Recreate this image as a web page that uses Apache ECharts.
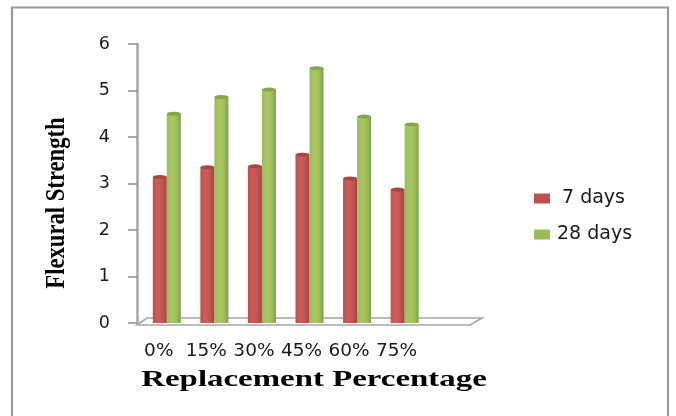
<!DOCTYPE html>
<html><head><meta charset="utf-8">
<style>html,body{margin:0;padding:0;background:#fff}#c{width:676px;height:416px}</style>
<script src="https://cdn.jsdelivr.net/npm/echarts@6/dist/echarts.min.js"></script>
</head><body><div id="c"></div>
<script>
const categories = ['0%','15%','30%','45%','60%','75%',''];
const days7 = [3.14,3.35,3.37,3.62,3.11,2.87,null];
const days28 = [4.5,4.86,5.02,5.48,4.44,4.27,null];
const yTicks = [0,1,2,3,4,5,6];
const red='#c0504d', green='#9bbb59';
function grad(dark,mid,light){return {type:'linear',x:0,y:0,x2:1,y2:0,colorStops:[{offset:0,color:mid},{offset:.4,color:light},{offset:.75,color:mid},{offset:1,color:dark}]};}
const chart = echarts.init(document.getElementById('c'),null,{renderer:'canvas'});
const barW=14;
function cap(name,data,offset,color){return {type:'scatter',name:name+' top',data:data,symbol:'circle',symbolSize:[barW,4],symbolOffset:[offset,0],itemStyle:{color:color,opacity:1},silent:true,z:5,tooltip:{show:false}};}
const legendFont={fontFamily:'DejaVu Sans',fontSize:19,color:'#1a1a1a'};
chart.setOption({
 animation:false,
 backgroundColor:'#fff',
 grid:{left:143,top:44,width:333,height:279},
 legend:{left:529,top:184,orient:'vertical',itemWidth:16,itemHeight:10,itemGap:17,icon:'rect',
   data:[{name:'7 days',itemStyle:{color:red},textStyle:{...legendFont,padding:[0,0,0,7]}},
         {name:'28 days',itemStyle:{color:green},textStyle:{...legendFont,padding:[0,0,0,2]}}],
   textStyle:legendFont},
 xAxis:{type:'category',data:categories,axisLine:{show:false},axisTick:{show:false},
   axisLabel:{fontFamily:'DejaVu Sans',fontSize:18.5,color:'#1a1a1a',margin:19,interval:0,align:'center',padding:[0,16,0,0]}},
 yAxis:{type:'value',min:0,max:6,interval:1,
   axisLine:{show:true,lineStyle:{color:'#a6a6a6',width:2.5}},
   axisTick:{show:true,length:9,lineStyle:{color:'#8c8c8c',width:1.5}},
   splitLine:{show:false},offset:6,
   axisLabel:{fontFamily:'DejaVu Sans',fontSize:17.5,color:'#1a1a1a',margin:27,padding:[3,0,0,0],
     formatter:v=>yTicks.includes(v)?String(v):''}},
 series:[
  {type:'custom',silent:true,z:1,data:[[0,0]],renderItem:(p,api)=>{
     const a=api.coord([0,0]),w=api.size([1,0])[0];
     const L=a[0]-w/2, R=L+7*w;
     return {type:'polygon',shape:{points:[[L-6,a[1]+2],[L+4,a[1]-5],[R+6,a[1]-5],[R-6,a[1]+2]]},
       style:{fill:'#fff',stroke:'#a6a6a6',lineWidth:1.6}};
  }},
  {type:'bar',name:'7 days',data:days7,barWidth:barW,barGap:'0%',z:3,color:red,itemStyle:{color:grad('#a04240',red,'#cc5f5b')}},
  {type:'bar',name:'28 days',data:days28,barWidth:barW,barGap:'0%',z:3,color:green,itemStyle:{color:grad('#7f9a48',green,'#a8c964')}},
  cap('7 days',days7,-barW/2,'#a84643'),
  cap('28 days',days28,barW/2,'#87a34c')
 ],
 graphic:[
  {type:'rect',shape:{x:12,y:7.5,width:656,height:500},style:{fill:'none',stroke:'#9a9a9a',lineWidth:2.2},z:-1,silent:true},
  {type:'text',x:314,y:380,scaleX:1.43,style:{text:'Replacement Percentage',fontFamily:'Liberation Serif',fontWeight:'bold',fontSize:23,fill:'#000',align:'center',verticalAlign:'middle'}},
  {type:'text',x:57,y:203,rotation:Math.PI/2,scaleX:0.985,scaleY:1.15,style:{text:'Flexural Strength',fontFamily:'Liberation Serif',fontWeight:'bold',fontSize:23,fill:'#000',align:'center',verticalAlign:'middle'}}
 ]
});
</script></body></html>
